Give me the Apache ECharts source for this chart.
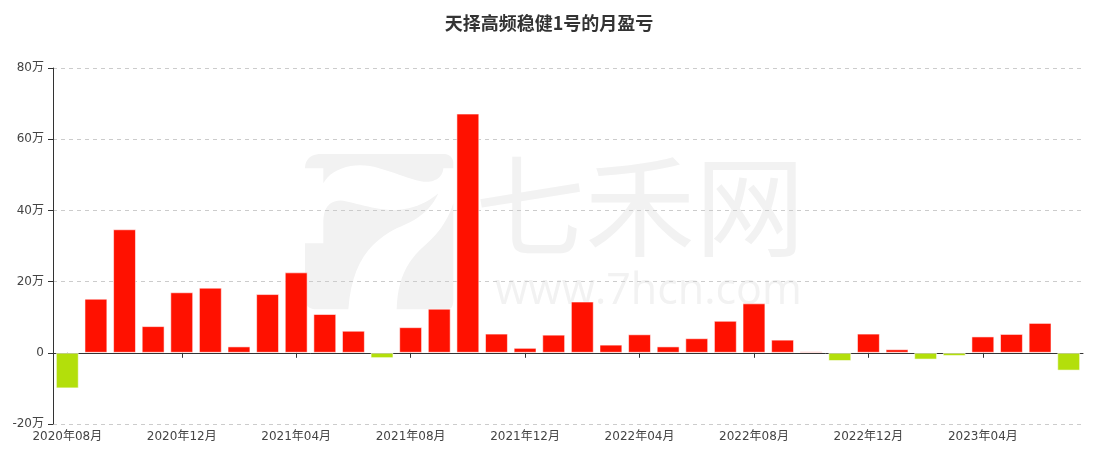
<!DOCTYPE html>
<html>
<head>
<meta charset="utf-8">
<script src="https://cdn.jsdelivr.net/npm/echarts@6/dist/echarts.min.js"></script>
<style>html,body{margin:0;padding:0;background:#fff}#c{width:1098px;height:459px}</style>
</head>
<body>
<div id="c"></div>
<script>
var titleText = '天择高频稳健1号的月盈亏';
var months = ['2020年08月','2020年09月','2020年10月','2020年11月','2020年12月',
  '2021年01月','2021年02月','2021年03月','2021年04月','2021年05月','2021年06月','2021年07月',
  '2021年08月','2021年09月','2021年10月','2021年11月','2021年12月',
  '2022年01月','2022年02月','2022年03月','2022年04月','2022年05月','2022年06月','2022年07月',
  '2022年08月','2022年09月','2022年10月','2022年11月','2022年12月',
  '2023年01月','2023年02月','2023年03月','2023年04月','2023年05月','2023年06月','2023年07月'];
// monthly profit/loss, unit: 万
var pnl = [-10.0, 15.2, 34.7, 7.5, 17.0,
  18.3, 1.8, 16.5, 22.6, 10.9, 6.2, -1.5,
  7.2, 12.4, 67.2, 5.4, 1.4,
  5.1, 14.4, 2.3, 5.2, 1.8, 4.1, 9.0,
  13.9, 3.7, 0.4, -2.3, 5.4,
  1.0, -1.9, -0.9, 4.6, 5.3, 8.4, -5.0];
var yTicks = [-20, 0, 20, 40, 60, 80];
var upColor = '#ff1100';
var downColor = '#b3df0b';
var wm = '#f2f2f2';
var labelFont = '"DejaVu Sans", "Noto Sans CJK SC", sans-serif';

// watermark logo outline helper (decoration only): segments of lines 'L' and cubic curves 'C'
function outline(ox, oy, s, segs) {
  var pts = [], cur = null;
  segs.forEach(function (sg) {
    if (sg[0] === 'M' || sg[0] === 'L') { cur = [sg[1], sg[2]]; pts.push(cur); }
    else if (sg[0] === 'C') {
      var p0 = cur, p1 = [sg[1], sg[2]], p2 = [sg[3], sg[4]], p3 = [sg[5], sg[6]];
      for (var i = 1; i <= 12; i++) {
        var t = i / 12, u = 1 - t;
        pts.push([u*u*u*p0[0] + 3*u*u*t*p1[0] + 3*u*t*t*p2[0] + t*t*t*p3[0],
                  u*u*u*p0[1] + 3*u*u*t*p1[1] + 3*u*t*t*p2[1] + t*t*t*p3[1]]);
      }
      cur = p3;
    }
  });
  return pts.map(function (p) { return [ox + p[0] * s, oy + p[1] * s]; });
}
var logoA = outline(290, 140, 1/3, [['M',45,85],['C',45,60,60,42,95,42],['L',460,42],['C',480,42,490,55,490,70],['L',490,85],['L',460,85],['C',458,115,430,128,400,125],['C',360,120,300,90,240,78],['C',180,68,120,90,100,130],['L',100,85]]);
var logoB = outline(290, 140, 1/3, [['M',45,310],['L',100,310],['L',100,240],['C',102,195,125,180,160,182],['C',200,190,240,205,300,210],['C',360,212,410,190,445,160],['C',420,215,380,240,320,265],['C',240,305,185,370,175,508],['L',80,508],['C',55,508,45,495,45,475]]);
var logoC = outline(290, 140, 1/3, [['M',490,190],['C',470,250,440,285,400,320],['C',350,365,322,420,320,508],['L',470,508],['C',485,508,490,498,490,480]]);

var chart = echarts.init(document.getElementById('c'), null, {renderer: 'canvas'});
chart.setOption({
  animation: false,
  title: {
    text: titleText, left: 'center', top: 9,
    textStyle: {fontSize: 18, fontWeight: 'bold', color: '#333', fontFamily: '"Noto Sans CJK SC", sans-serif'}
  },
  graphic: [
    {type: 'polygon', z: -1, silent: true, shape: {points: logoA}, style: {fill: wm}},
    {type: 'polygon', z: -1, silent: true, shape: {points: logoB}, style: {fill: wm}},
    {type: 'polygon', z: -1, silent: true, shape: {points: logoC}, style: {fill: wm}},
    {type: 'text', z: -1, silent: true, x: 475, y: 151,
      style: {text: '七禾网', fill: wm, font: '110px "Noto Sans CJK SC"', textVerticalAlign: 'top'}},
    {type: 'text', z: -1, silent: true, x: 495, y: 270,
      style: {text: 'www.7hcn.com', fill: wm, font: '43px "Open Sans"', textVerticalAlign: 'top'}}
  ],
  grid: {left: 53, right: 15, top: 68, bottom: 35, containLabel: false},
  xAxis: [
    {
      type: 'category', data: months, position: 'bottom',
      axisLine: {show: true, onZero: true, lineStyle: {color: '#333'}},
      axisTick: {show: true, alignWithLabel: true, interval: 3, length: 5, lineStyle: {color: '#333'}},
      axisLabel: {show: false},
      splitLine: {show: false}
    },
    {
      type: 'category', data: months, position: 'bottom',
      axisLine: {show: false, onZero: false},
      axisTick: {show: false},
      axisLabel: {show: true, interval: 3, color: '#444', fontSize: 12, margin: 7,
        fontFamily: labelFont},
      splitLine: {show: false}
    }
  ],
  yAxis: {
    type: 'value', min: yTicks[0], max: yTicks[yTicks.length - 1], interval: 20,
    axisLine: {show: true, lineStyle: {color: '#333'}},
    axisTick: {show: true, length: 5, lineStyle: {color: '#333'}},
    axisLabel: {color: '#444', fontSize: 12, margin: 9,
      fontFamily: labelFont,
      formatter: function (v) { return v === 0 ? '0' : v + '万'; }},
    splitLine: {show: true, lineStyle: {color: '#ccc', type: [4, 4]}}
  },
  series: [{
    type: 'bar', xAxisIndex: 0,
    barCategoryGap: '20%',
    data: pnl.map(function (v) {
      return {value: v, itemStyle: {color: v >= 0 ? upColor : downColor}};
    }),
    itemStyle: {borderColor: 'rgba(255,255,255,0.55)', borderWidth: 1}
  }]
});
</script>
</body>
</html>
